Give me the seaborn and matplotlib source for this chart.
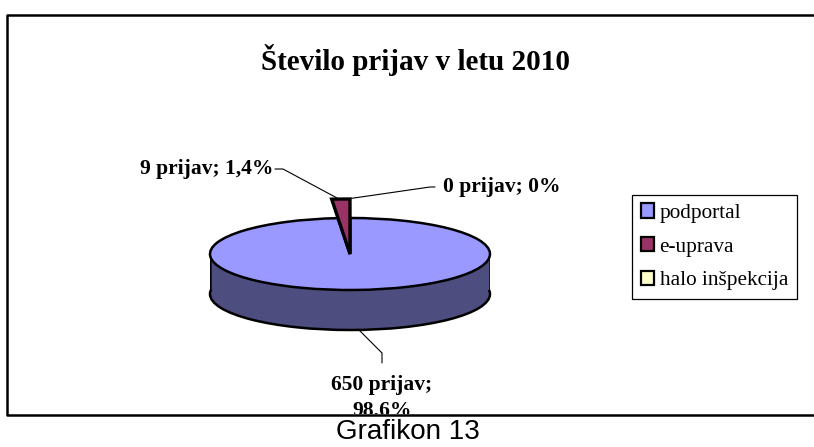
import matplotlib
matplotlib.use('Agg')
import matplotlib.pyplot as plt
import seaborn as sns
from matplotlib.patches import Patch
from matplotlib.transforms import Bbox

W, H = 814, 447

labels = ['podportal', 'e-uprava', 'halo inšpekcija']
prijave = [650, 9, 0]
colors = ['#9999FF', '#993366', '#FFFFCC']
side_color = '#4D4D80'
data_labels = ['650 prijav;\n98,6%', '9 prijav; 1,4%', '0 prijav; 0%']

sns.set_theme(style='white')
plt.rcParams['font.family'] = ['Liberation Serif']

fig = plt.figure(figsize=(W / 100, H / 100), dpi=100, facecolor='white')

# whole canvas in pixel coordinates, y going down like the reference
ax = fig.add_axes([0, 0, 1, 1])
ax.set_xlim(0, W)
ax.set_ylim(H, 0)
ax.axis('off')

# chart frame
ax.plot([W, 7, 7, W], [15, 15, 414.5, 414.5], color='black', lw=1.8, zorder=6)

ax.text(415.5, 60, 'Število prijav v letu 2010', ha='center', va='center',
        fontsize=21, fontweight='bold', color='black')

# pie lives in its own axes, squashed so the circle turns into an ellipse
pie_ax = fig.add_axes([210 / W, 1 - 290 / H, 280 / W, 72 / H])
pie_ax.patch.set_alpha(0)
edge = {'edgecolor': 'black', 'linewidth': 1.8}

# side wall = darker pie shifted down, with the band between
depth = 40 / 36
pie_ax.pie([sum(prijave)], colors=[side_color], center=(0, -depth), radius=1,
           wedgeprops=edge, normalize=True)
pie_ax.bar(0, depth, width=2, bottom=-depth, color=side_color, zorder=1)
pie_ax.plot([-1, -1], [0, -depth], color='black', lw=1.8, zorder=2)
pie_ax.plot([1, 1], [0, -depth], color='black', lw=1.8, zorder=2)

# top face
top, _ = pie_ax.pie(prijave, colors=colors, startangle=90, counterclock=False,
                    radius=1, wedgeprops=edge)
for w in top:
    w.set_zorder(3)

# raised e-uprava slice
raised, _ = pie_ax.pie(prijave, colors=colors, startangle=90, counterclock=False,
                       radius=55 / 36, wedgeprops={'edgecolor': 'black', 'linewidth': 2.4})
for i, w in enumerate(raised):
    w.set_zorder(4)
    w.set_clip_on(False)
    if labels[i] != 'e-uprava':
        w.set_visible(False)

pie_ax.set_aspect('auto')
pie_ax.set_xlim(-1, 1)
pie_ax.set_ylim(-1, 1)
pie_ax.axis('off')

# leader lines
ax.plot([358, 382, 382], [329, 353, 363], color='black', lw=0.8, zorder=5)
ax.plot([275, 283, 337], [169, 169, 198], color='black', lw=0.8, zorder=5)
ax.plot([435, 430, 347], [187, 187, 199], color='black', lw=0.8, zorder=5)

lbl = {'fontsize': 15.5, 'fontweight': 'bold', 'color': 'black'}
ax.text(207, 169, data_labels[1], ha='center', va='center', **lbl)
ax.text(502, 187, data_labels[2], ha='center', va='center', **lbl)
# second line runs into the frame and gets cut off there, same as the original
bottom = ax.text(382, 398, data_labels[0], ha='center', va='center', linespacing=1.41, **lbl)
bottom.set_clip_box(Bbox([[0, H - 414], [W, H]]))
bottom.set_clip_on(True)

ax.text(420, 238, 't', ha='center', va='center', fontsize=17, family='Liberation Sans', color='#222222')
ax.text(407.5, 432, 'Grafikon 13', ha='center', va='center', fontsize=20,
        family='Liberation Sans', color='black')

handles = [Patch(facecolor=c, edgecolor='black', linewidth=1.6) for c in colors]
leg = ax.legend(handles, labels, loc='upper left', bbox_to_anchor=(632 / W, 1 - 195 / H),
                bbox_transform=fig.transFigure, frameon=True, fancybox=False, edgecolor='black',
                framealpha=1, fontsize=15.3, labelcolor='black', handlelength=0.65, handleheight=0.65,
                handletextpad=0.25, labelspacing=0.66, borderaxespad=0, borderpad=0.4)
leg.get_frame().set_linewidth(0.9)

fig.savefig('out.png', dpi=100, facecolor='white')
